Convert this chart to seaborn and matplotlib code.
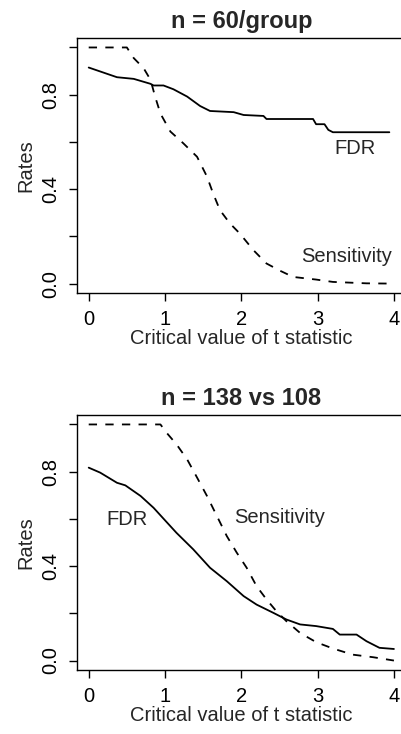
import numpy as np
import pandas as pd
import matplotlib
matplotlib.use("Agg")
import matplotlib.pyplot as plt
import seaborn as sns

# ----------------------------
# Values
# ----------------------------
# panel 1: n = 60/group
fdr60_t = [0.00, 0.37, 0.59, 0.81, 0.85, 0.98, 1.11, 1.29, 1.46, 1.59, 1.90, 2.03,
           2.29, 2.33, 2.94, 2.98, 3.09, 3.14, 3.20, 3.94]
fdr60 = [0.915, 0.874, 0.867, 0.846, 0.839, 0.839, 0.823, 0.792, 0.752, 0.731, 0.726, 0.714,
         0.710, 0.697, 0.697, 0.675, 0.675, 0.651, 0.641, 0.641]
sens60_t = [0.00, 0.50, 0.59, 0.72, 0.81, 0.87, 0.94, 1.07, 1.24, 1.42, 1.55, 1.63, 1.72,
            1.85, 1.98, 2.16, 2.33, 2.51, 2.68, 2.98, 3.20, 3.64, 3.94]
sens60 = [1.000, 1.000, 0.955, 0.912, 0.863, 0.792, 0.720, 0.644, 0.594, 0.537, 0.453, 0.382,
          0.311, 0.255, 0.212, 0.141, 0.085, 0.054, 0.028, 0.017, 0.007, 0.001, 0.000]

# panel 2: n = 138 vs 108
fdr138_t = [0.00, 0.15, 0.37, 0.48, 0.68, 0.85, 0.98, 1.15, 1.37, 1.59, 1.81, 2.03, 2.20,
            2.42, 2.59, 2.77, 2.98, 3.20, 3.29, 3.51, 3.64, 3.81, 4.00]
fdr138 = [0.817, 0.796, 0.753, 0.742, 0.697, 0.647, 0.601, 0.541, 0.471, 0.393, 0.336, 0.273,
          0.237, 0.202, 0.174, 0.153, 0.146, 0.134, 0.110, 0.110, 0.082, 0.054, 0.049]
sens138_t = [0.00, 0.94, 1.02, 1.15, 1.29, 1.42, 1.55, 1.68, 1.81, 1.94, 2.07, 2.20, 2.33,
             2.46, 2.59, 2.77, 2.98, 3.20, 3.46, 3.73, 4.00]
sens138 = [1.000, 1.000, 0.965, 0.916, 0.852, 0.775, 0.697, 0.612, 0.527, 0.457, 0.393, 0.315,
           0.259, 0.209, 0.167, 0.117, 0.078, 0.051, 0.025, 0.014, 0.000]

titles = ["n = 60/group", "n = 138 vs 108"]
# label positions (x, y) for "FDR" and "Sensitivity"
fdr_lab = [(3.49, 0.573), (0.50, 0.598)]
sens_lab = [(3.38, 0.113), (2.50, 0.605)]

panels = [
    (fdr60_t, fdr60, sens60_t, sens60),
    (fdr138_t, fdr138, sens138_t, sens138),
]

sns.set_theme(style="ticks")
plt.rcParams["font.family"] = ["Liberation Sans", "DejaVu Sans"]
plt.rcParams["axes.linewidth"] = 1.0

fs = 14.5
fig = plt.figure(figsize=(4.01, 7.34), dpi=100)
axes_pos = [[0.1908, 0.6008, 0.822, 0.3474],
            [0.1908, 0.0872, 0.822, 0.3474]]

for i, (ft, fv, st, sv) in enumerate(panels):
    ax = fig.add_axes(axes_pos[i])
    dfr = pd.DataFrame({"t": ft, "rate": fv})
    dse = pd.DataFrame({"t": st, "rate": sv})
    sns.lineplot(data=dfr, x="t", y="rate", estimator=None, sort=False, ax=ax,
                 color="black", linewidth=1.3)
    sns.lineplot(data=dse, x="t", y="rate", estimator=None, sort=False, ax=ax,
                 color="black", linewidth=1.3, linestyle=(0, (4.6, 4.6)))
    ax.set_xlim(-0.16, 4.16)
    ax.set_ylim(-0.04, 1.04)
    ax.set_xticks([0, 1, 2, 3, 4])
    ax.set_yticks([0.0, 0.2, 0.4, 0.6, 0.8, 1.0])
    ax.set_yticklabels(["0.0", "", "0.4", "", "0.8", ""], rotation=90, va="center")
    ax.tick_params(direction="out", length=6, width=1.0, pad=6, labelsize=fs,
                   colors="black")
    for s in ax.spines.values():
        s.set_visible(True)
        s.set_color("black")
    ax.set_xlabel("Critical value of t statistic", fontsize=fs, labelpad=0)
    ax.set_ylabel("Rates", fontsize=fs, labelpad=4)
    ax.set_title(titles[i], fontsize=17, fontweight="bold", pad=7)
    ax.text(fdr_lab[i][0], fdr_lab[i][1], "FDR", fontsize=fs, ha="center", va="center")
    ax.text(sens_lab[i][0], sens_lab[i][1], "Sensitivity", fontsize=fs, ha="center", va="center")

plt.savefig("out.png", dpi=100, facecolor="white")
plt.close()
